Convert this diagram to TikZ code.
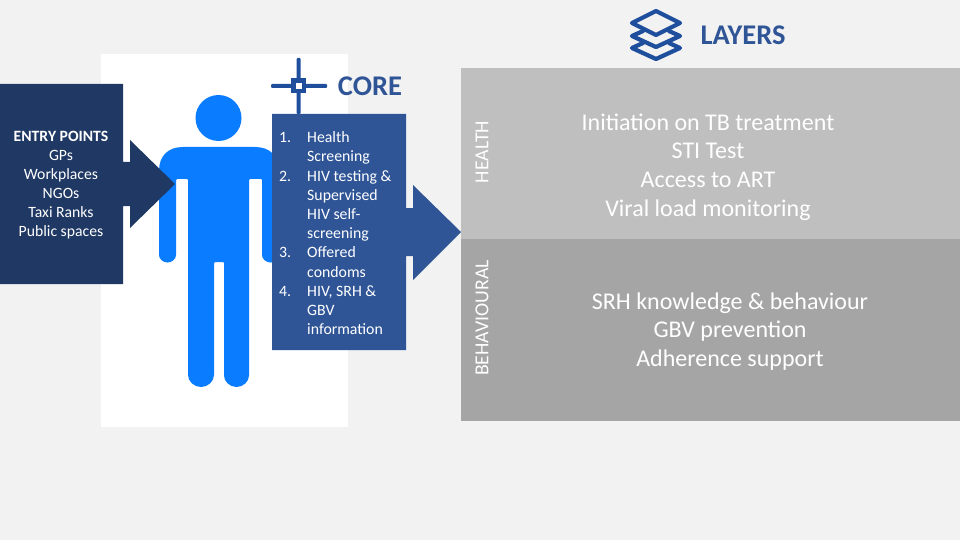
\documentclass[tikz,border=0pt]{standalone}
\usepackage{fontspec}
\setmainfont{Carlito}
\definecolor{bgc}{HTML}{F2F2F2}
\definecolor{navy}{HTML}{203864}
\definecolor{corec}{HTML}{2F5597}
\definecolor{personc}{HTML}{0A7CFF}
\definecolor{topc}{HTML}{BFBFBF}
\definecolor{botc}{HTML}{A5A5A5}
\definecolor{iconc}{HTML}{1F4E9C}
\tikzset{
 x=1pt,y=-1pt,
 heading/.style={text=corec,font=\fontsize{28.5}{30}\selectfont\bfseries,inner sep=0},
 sidelabel/.style={text=white,font=\fontsize{19.8}{22}\selectfont,rotate=90,inner sep=0},
 layertext/.style={text=white,font=\fontsize{24}{28.7}\selectfont,align=center,inner sep=0},
 entrytext/.style={text=white,font=\fontsize{15.7}{19}\selectfont,align=center,inner sep=0},
 listtext/.style={text=white,font=\fontsize{15.8}{19.2}\selectfont,align=left,inner sep=0},
 iconline/.style={draw=iconc,line width=4.2pt,line join=round,line cap=round},
}
\newcommand{\itm}[1]{\makebox[28pt][l]{#1}}
\newcommand{\cnt}{\hspace*{28pt}}
\begin{document}
\begin{tikzpicture}
\useasboundingbox (0,0) rectangle (960,540);
\fill[bgc] (0,0) rectangle (960,540);
\fill[white] (101,54) rectangle (348,427);
% layers
\fill[topc] (461,68) rectangle (960,239);
\fill[botc] (461,239) rectangle (960,421);
% person
\fill[personc] (218.5,118) circle (23);
\fill[personc,rounded corners=1pt]
  (159,254) -- (159,172) .. controls (159,156) and (168,147) .. (184,147)
  -- (254,147) .. controls (270,147) and (279,156) .. (279,172) -- (279,254)
  arc[start angle=0,end angle=180,radius=8.5] -- (262,179) -- (249,179)
  -- (249,374.5) arc[start angle=0,end angle=180,radius=12.5] -- (224,262) -- (214,262)
  -- (214,374) arc[start angle=0,end angle=180,radius=13] -- (188,179) -- (176,179)
  -- (176,254) arc[start angle=0,end angle=180,radius=8.5] -- cycle;
% entry box with arrow
\fill[navy] (0,84) -- (123,84) -- (123,162) -- (130,162) -- (130,140) -- (175,184)
  -- (130,228) -- (130,206) -- (123,206) -- (123,284) -- (0,284) -- cycle;
% core box with arrow
\fill[corec] (272,114) -- (406,114) -- (406,208) -- (413,208) -- (413,185) -- (461,232)
  -- (413,280) -- (413,256) -- (406,256) -- (406,350) -- (272,350) -- cycle;
% core icon
\fill[iconc,rounded corners=1pt] (296.5,58) rectangle (300.5,114);
\fill[iconc,rounded corners=1pt] (271,84) rectangle (327,88);
\fill[iconc] (291,78.5) rectangle (306,93.5);
\fill[white] (295.5,83) rectangle (301.5,89);
% layers icon
\draw[iconline] (656,11) -- (680,23) -- (656,35) -- (632,23) -- cycle;
\draw[iconline] (643,31) -- (632,36) -- (656,47) -- (680,36) -- (669,31);
\draw[iconline] (643,43) -- (632,48) -- (656,59) -- (680,48) -- (669,43);
% headings
\node[heading,anchor=center] (layers) at (743,35) {LAYERS};
\node[heading,anchor=center] (core) at (370,86) {CORE};
% entry text
\node[entrytext] (entry) at (61,185) {\textbf{ENTRY POINTS}\\GPs\\Workplaces\\NGOs\\Taxi Ranks\\Public spaces};
% core list
\node[listtext,anchor=north west] (list) at (279,131.5) {\itm{1.}Health\\\cnt Screening\\\itm{2.}HIV testing \&\\\cnt Supervised\\\cnt HIV self-\\\cnt screening\\\itm{3.}Offered\\\cnt condoms\\\itm{4.}HIV, SRH \&\\\cnt GBV\\\cnt information};
% side labels
\node[sidelabel] (health) at (482,152) {HEALTH};
\node[sidelabel] (behav) at (482,318) {BEHAVIOURAL};
% layer texts
\node[layertext] (healthtext) at (708,167) {Initiation on TB treatment\\STI Test\\Access to ART\\Viral load monitoring};
\node[layertext] (behavtext) at (730,331.5) {SRH knowledge \& behaviour\\GBV prevention\\Adherence support};
\end{tikzpicture}
\end{document}
